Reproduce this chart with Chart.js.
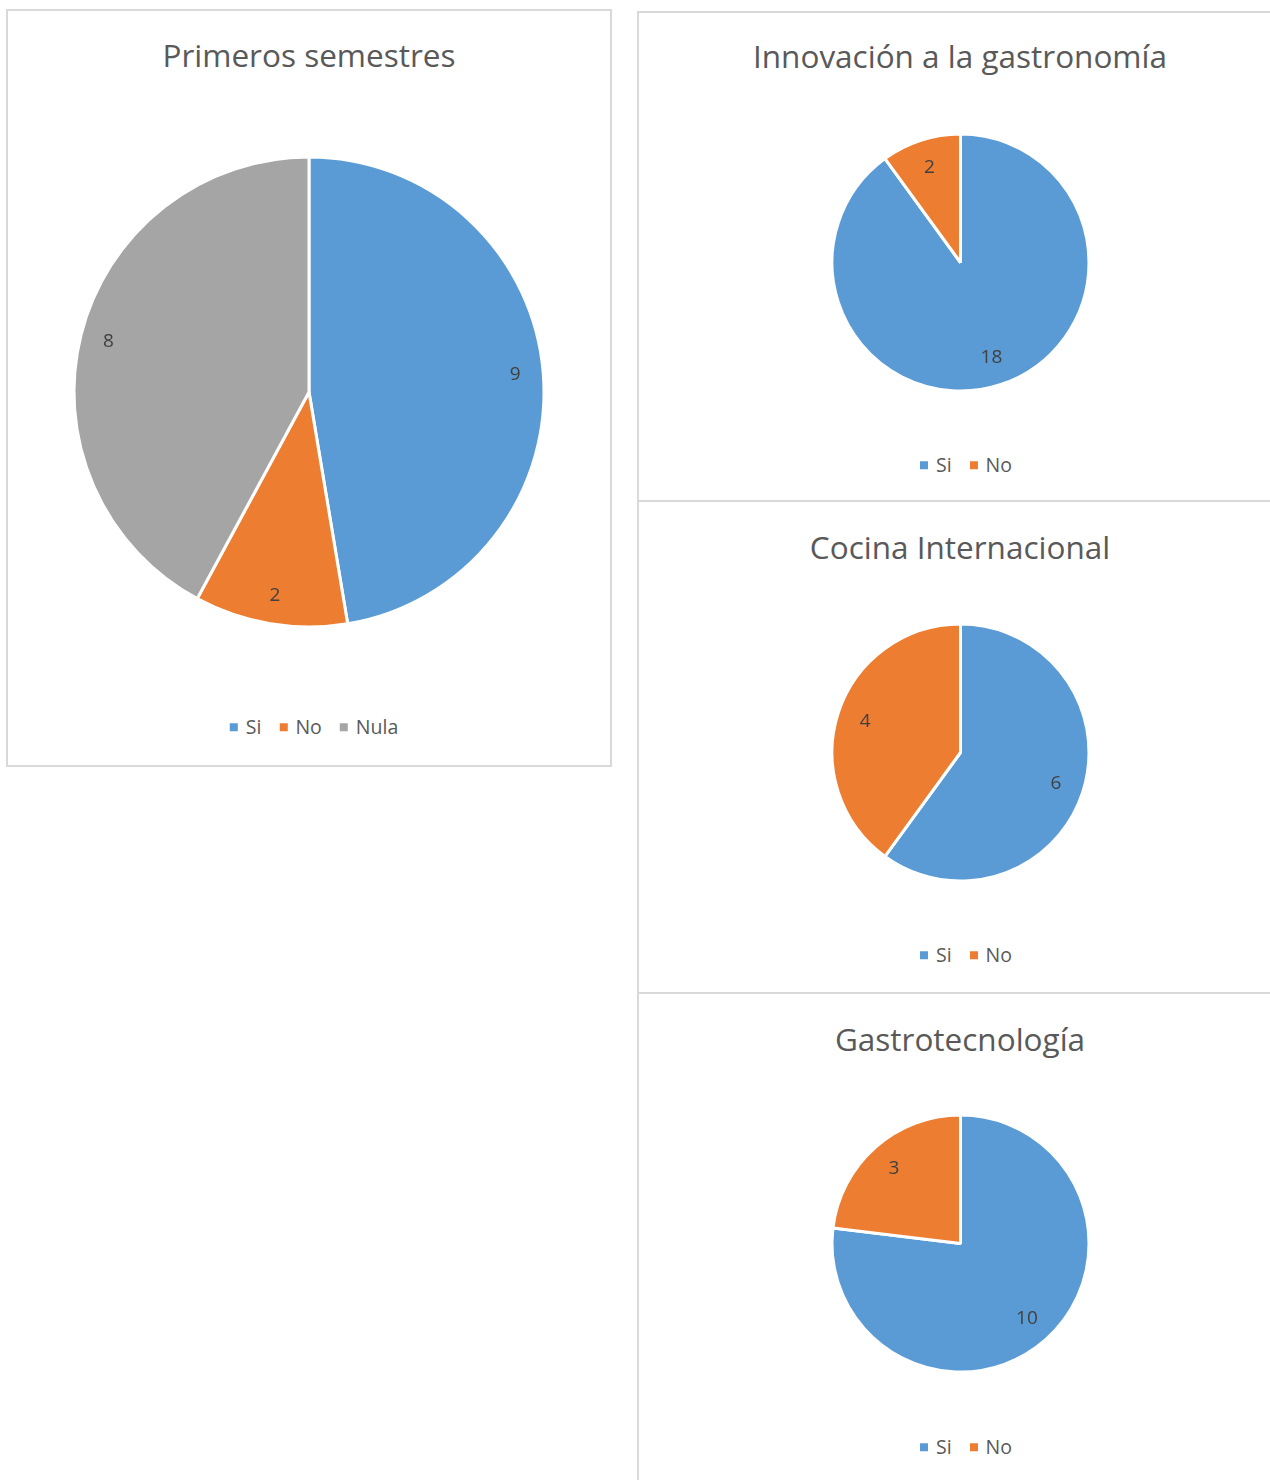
<!DOCTYPE html>
<html>
<head>
<meta charset="utf-8">
<script src="https://cdn.jsdelivr.net/npm/chart.js@4.4.1/dist/chart.umd.min.js"></script>
<style>
  html, body { margin: 0; padding: 0; background: #fff; width: 1270px; height: 1480px; overflow: hidden; }
  body { position: relative; font-family: "Open Sans", sans-serif; }
  .panel { position: absolute; box-sizing: border-box; border: 2px solid #d9d9d9; background: #fff; }
  .divider { position: absolute; left: 638px; width: 640px; height: 2px; background: #d9d9d9; }
  .title { position: absolute; transform: translate(-50%, -50%); white-space: nowrap; color: #595959; font-size: 31.5px; line-height: 1; }
  .legend { position: absolute; transform: translate(-50%, -50%); white-space: nowrap; color: #595959; font-size: 19.5px; line-height: 1; display: flex; align-items: center; }
  .legend .item { display: flex; align-items: center; margin: 0 9px; }
  .legend .sw { width: 8px; height: 8px; margin-right: 8px; }
  canvas { position: absolute; }
</style>
</head>
<body>
<div class="panel" style="left:6px; top:9px; width:606px; height:758px;"></div>
<div class="panel" style="left:637px; top:11px; width:700px; height:1600px;"></div>
<div class="divider" style="top:500px;"></div>
<div class="divider" style="top:992px;"></div>
<div id="root"></div>
<script>
// ---- data ----
const titles = ["Primeros semestres", "Innovación a la gastronomía", "Cocina Internacional", "Gastrotecnología"];
const catsMain = ["Si", "No", "Nula"];
const catsYesNo = ["Si", "No"];
const valsPrimeros = [9, 2, 8];
const valsInnovacion = [18, 2];
const valsCocina = [6, 4];
const valsGastro = [10, 3];
const colors = ["#5B9BD5", "#ED7D31", "#A5A5A5"];

// ---- layout (styles only) ----
const panels = [
  { title: titles[0], labels: catsMain, values: valsPrimeros, cx: 309, cy: 391.5, r: 235, titleY: 55, legendY: 727, legendX: 314, labelFrac: 0.88 },
  { title: titles[1], labels: catsYesNo, values: valsInnovacion, cx: 960, cy: 262, r: 128.5, titleY: 56, legendY: 465, legendX: 966, labelFrac: 0.78 },
  { title: titles[2], labels: catsYesNo, values: valsCocina, cx: 960, cy: 752, r: 128.5, titleY: 547, legendY: 955, legendX: 966, labelFrac: 0.78 },
  { title: titles[3], labels: catsYesNo, values: valsGastro, cx: 960, cy: 1243, r: 128.5, titleY: 1039, legendY: 1447, legendX: 966, labelFrac: 0.78 }
];

const dataLabelPlugin = {
  id: 'sliceLabels',
  afterDatasetsDraw(chart, args, opts) {
    const ctx = chart.ctx;
    const meta = chart.getDatasetMeta(0);
    const ds = chart.data.datasets[0];
    ctx.save();
    ctx.fillStyle = '#404040';
    ctx.font = '19px "Open Sans", sans-serif';
    ctx.textAlign = 'center';
    ctx.textBaseline = 'middle';
    meta.data.forEach((arc, i) => {
      const p = arc.getProps(['x', 'y', 'startAngle', 'endAngle', 'outerRadius'], true);
      const mid = (p.startAngle + p.endAngle) / 2;
      const d = p.outerRadius * opts.frac;
      ctx.fillText(String(ds.data[i]), p.x + Math.cos(mid) * d, p.y + Math.sin(mid) * d);
    });
    ctx.restore();
  }
};

const root = document.getElementById('root');
panels.forEach((p) => {
  const t = document.createElement('div');
  t.className = 'title';
  t.textContent = p.title;
  t.style.left = p.cx + 'px';
  t.style.top = p.titleY + 'px';
  root.appendChild(t);

  const lg = document.createElement('div');
  lg.className = 'legend';
  lg.style.left = p.legendX + 'px';
  lg.style.top = p.legendY + 'px';
  p.labels.forEach((lab, i) => {
    const it = document.createElement('span');
    it.className = 'item';
    const sw = document.createElement('span');
    sw.className = 'sw';
    sw.style.background = colors[i];
    const tx = document.createElement('span');
    tx.textContent = lab;
    it.appendChild(sw); it.appendChild(tx);
    lg.appendChild(it);
  });
  root.appendChild(lg);

  const size = Math.ceil(2 * p.r + 10);
  const cv = document.createElement('canvas');
  cv.width = size; cv.height = size;
  cv.style.width = size + 'px'; cv.style.height = size + 'px';
  cv.style.left = (p.cx - size / 2) + 'px';
  cv.style.top = (p.cy - size / 2) + 'px';
  root.appendChild(cv);

  new Chart(cv.getContext('2d'), {
    type: 'pie',
    data: {
      labels: p.labels,
      datasets: [{
        data: p.values,
        backgroundColor: colors.slice(0, p.values.length),
        borderColor: '#ffffff',
        borderWidth: 3,
        radius: p.r
      }]
    },
    options: {
      responsive: false,
      animation: false,
      events: [],
      layout: { padding: 0 },
      plugins: {
        legend: { display: false },
        tooltip: { enabled: false },
        title: { display: false },
        sliceLabels: { frac: p.labelFrac }
      }
    },
    plugins: [dataLabelPlugin]
  });
});
</script>
</body>
</html>
